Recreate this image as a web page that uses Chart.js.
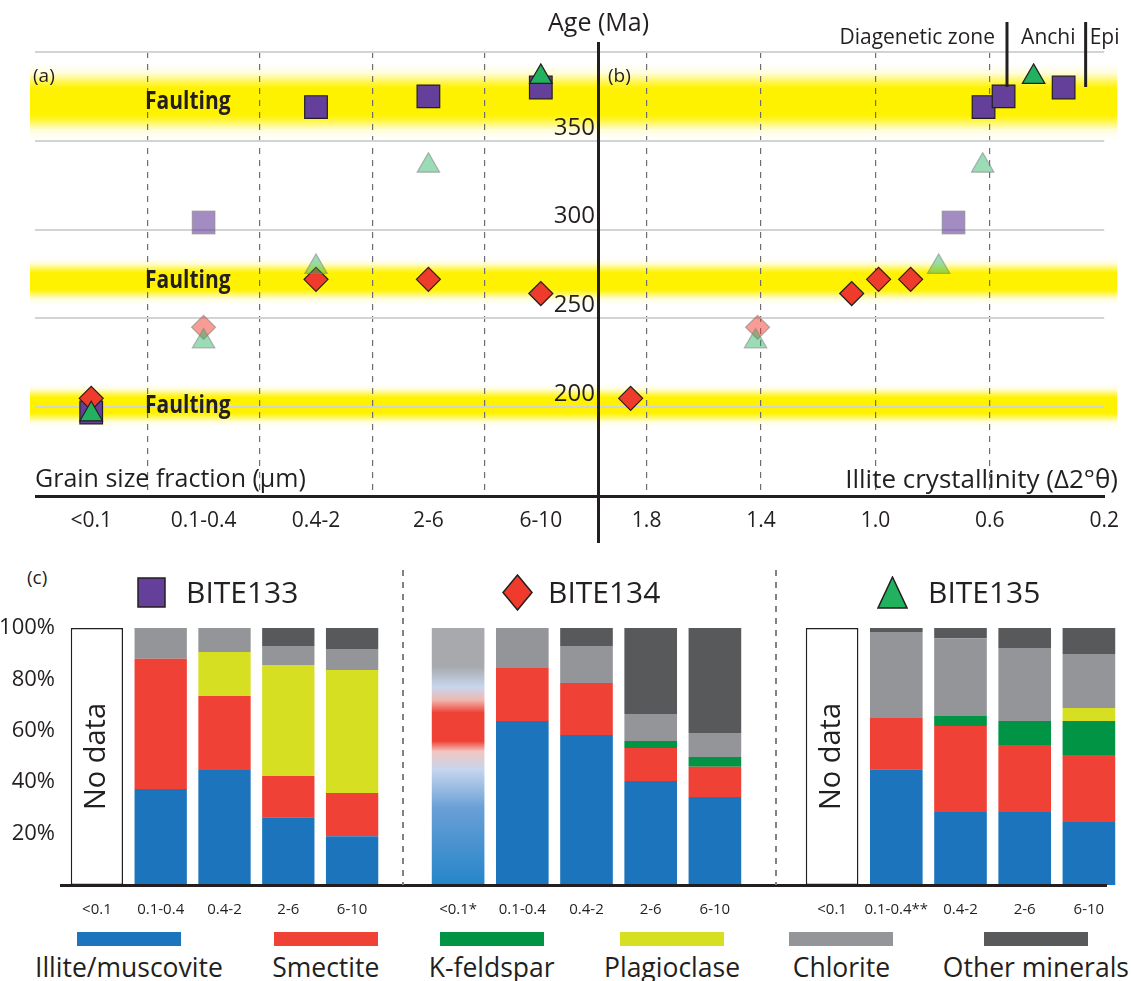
<!DOCTYPE html>
<html>
<head>
<meta charset="utf-8">
<script src="https://cdn.jsdelivr.net/npm/chart.js@4.4.1/dist/chart.umd.min.js"></script>
<style>
  body { margin: 0; background: #fff; font-family: "Open Sans", sans-serif; color: #231f20; }
  #wrap { position: relative; width: 1131px; height: 981px; overflow: hidden; }
  canvas { position: absolute; }
  .txt { position: absolute; white-space: nowrap; line-height: 1; }
  .line { position: absolute; background: #231f20; }
  .dash { position: absolute; width: 1.5px;
          background: repeating-linear-gradient(to bottom, #808285 0 6px, transparent 6px 12px); }
  #legend { position: absolute; left: 35px; top: 932px; width: 1094px;
            display: flex; justify-content: space-between; }
  #legend .item { display: flex; flex-direction: column; align-items: center; }
  #legend .sw { width: 104px; height: 14px; }
  #legend .lab { font-size: 26.5px; line-height: 1; margin-top: 8px; }
</style>
</head>
<body>
<div id="wrap">
  <canvas id="chartA" width="600" height="546" style="left:0;top:0"></canvas>
  <canvas id="chartB" width="591" height="546" style="left:540px;top:0"></canvas>
  <div class="line" style="left:35px;top:495px;width:1070px;height:3px"></div>
  <div class="line" style="left:597px;top:42px;width:3px;height:501px"></div>

  <div class="txt" style="left:548px;top:9px;font-size:25px">Age (Ma)</div>
  <div class="txt" style="left:33px;top:66px;font-size:19px">(a)</div>
  <div class="txt" style="left:608px;top:66px;font-size:19px">(b)</div>
  <div class="txt" style="left:35px;top:465px;font-size:25px">Grain size fraction (µm)</div>
  <div class="txt" style="right:13px;top:465px;font-size:26px">Illite crystallinity (Δ2°θ)</div>

  <canvas id="chartC1" width="400" height="320" style="left:0;top:600px"></canvas>
  <canvas id="chartC2" width="400" height="320" style="left:380px;top:600px"></canvas>
  <canvas id="chartC3" width="371" height="320" style="left:760px;top:600px"></canvas>
  <div class="line" style="left:60px;top:884px;width:1047px;height:3px"></div>
  <div class="dash" style="left:402px;top:570px;height:315px"></div>
  <div class="dash" style="left:775px;top:570px;height:315px"></div>

  <div class="txt" style="left:27px;top:568px;font-size:19px">(c)</div>
  <svg style="position:absolute;left:137px;top:577px" width="29" height="31"><rect x="1" y="1" width="27" height="29" fill="#65409a" stroke="#231f20" stroke-width="1.5"/></svg>
  <div class="txt" style="left:186px;top:577px;font-size:30px">BITE133</div>
  <svg style="position:absolute;left:502px;top:574px" width="31" height="37"><polygon points="15.5,1 30,18.5 15.5,36 1,18.5" fill="#ef3b2c" stroke="#231f20" stroke-width="1.5"/></svg>
  <div class="txt" style="left:548px;top:577px;font-size:30px">BITE134</div>
  <svg style="position:absolute;left:877px;top:576px" width="31" height="33"><polygon points="15.5,1 30,32 1,32" fill="#22b15e" stroke="#231f20" stroke-width="1.5"/></svg>
  <div class="txt" style="left:928px;top:577px;font-size:30px">BITE135</div>

  <div id="legend"></div>
</div>

<script>
// ---- (a) / (b) ages and crystallinity ----
const grainLabels = ['<0.1', '0.1-0.4', '0.4-2', '2-6', '6-10'];
const age133 = [197, 304, 369, 375, 380];
const age134 = [205, 245, 272, 272, 264];
const age135 = [196, 237, 279, 336, 386];
const faded133 = [false, true, false, false, false];
const faded134 = [false, true, false, false, false];
const faded135 = [false, true, true, true, false];
const ic133 = [null, 0.727, 0.622, 0.552, 0.342];
const ic134 = [1.856, 1.412, 0.989, 0.877, 1.083];
const ic135 = [null, 1.419, 0.779, 0.625, 0.447];
const ageTicks = [200, 250, 300, 350];
const icTicks = [1.8, 1.4, 1.0, 0.6, 0.2];
const faultAges = [372, 271, 201];
const faultHalfWidth = [21, 13, 12];
const zoneBounds = [0.54, 0.265];
const zoneNames = ['Diagenetic zone', 'Anchi', 'Epi'];

// ---- (c) mineralogy, % ----
const minerals = ['Illite/muscovite', 'Smectite', 'K-feldspar', 'Plagioclase', 'Chlorite', 'Other minerals'];
const mineralColors = ['#1c75bc', '#ef4136', '#009444', '#d7df23', '#939598', '#58595b'];

const fractions133 = ['<0.1', '0.1-0.4', '0.4-2', '2-6', '6-10'];
const illite133   = [null, 37.4, 44.7, 26.4, 19.0];
const smectite133 = [null, 50.6, 28.8, 16.0, 16.8];
const kfeld133    = [null, 0, 0, 0, 0];
const plag133     = [null, 0, 17.2, 43.2, 47.9];
const chlorite133 = [null, 12.0, 9.3, 7.4, 8.1];
const other133    = [null, 0, 0, 7.0, 8.2];
const noData133   = [100, null, null, null, null];

const fractions134 = ['<0.1*', '0.1-0.4', '0.4-2', '2-6', '6-10'];
const illite134   = [null, 63.8, 58.4, 40.5, 34.2];
const smectite134 = [null, 20.6, 20.2, 12.8, 11.8];
const kfeld134    = [null, 0, 0, 2.7, 3.8];
const plag134     = [null, 0, 0, 0, 0];
const chlorite134 = [null, 15.6, 14.4, 10.5, 9.3];
const other134    = [null, 0, 7.0, 33.5, 40.9];
const uncertain134 = [100, null, null, null, null];

const fractions135 = ['<0.1', '0.1-0.4**', '0.4-2', '2-6', '6-10'];
const illite135   = [null, 45.0, 28.4, 28.4, 24.5];
const smectite135 = [null, 20.0, 33.5, 26.1, 26.1];
const kfeld135    = [null, 0, 3.9, 9.3, 13.2];
const plag135     = [null, 0, 0, 0, 5.1];
const chlorite135 = [null, 33.4, 30.2, 28.4, 21.0];
const other135    = [null, 1.6, 4.0, 7.8, 10.1];
const noData135   = [100, null, null, null, null];

Chart.defaults.font.family = '"Open Sans", sans-serif';
Chart.defaults.color = '#231f20';

const INK = '#231f20';

// marker styles per sample (drawn top-first: triangles, diamonds, squares)
const samples = [
  { name: 'BITE135', ages: age135, ic: ic135, faded: faded135, style: 'triangle', r: 13, rgb: [34, 177, 94], alpha: 0.45 },
  { name: 'BITE134', ages: age134, ic: ic134, faded: faded134, style: 'rectRot', r: 12, rgb: [239, 59, 44], alpha: 0.5 },
  { name: 'BITE133', ages: age133, ic: ic133, faded: faded133, style: 'rect', r: 16, rgb: [101, 64, 154], alpha: 0.6 }
];
const rgba = (c, a) => `rgba(${c[0]},${c[1]},${c[2]},${a})`;

// yellow faulting bands under the grid
const bandPlugin = {
  id: 'bands',
  beforeDraw(chart, args, opts) {
    const { ctx, chartArea, scales: { y } } = chart;
    ctx.save();
    faultAges.forEach((a, i) => {
      const y0 = y.getPixelForValue(a + faultHalfWidth[i]);
      const y1 = y.getPixelForValue(a - faultHalfWidth[i]);
      const g = ctx.createLinearGradient(0, y0, 0, y1);
      g.addColorStop(0, 'rgba(255,242,0,0)');
      g.addColorStop(0.12, 'rgba(255,242,0,0.15)');
      g.addColorStop(0.25, 'rgba(255,242,0,0.75)');
      g.addColorStop(0.32, 'rgba(255,242,0,1)');
      g.addColorStop(0.68, 'rgba(255,242,0,1)');
      g.addColorStop(0.75, 'rgba(255,242,0,0.75)');
      g.addColorStop(0.88, 'rgba(255,242,0,0.15)');
      g.addColorStop(1, 'rgba(255,242,0,0)');
      ctx.fillStyle = g;
      ctx.fillRect(chartArea.left - opts.left, y0, chartArea.width + opts.left + opts.right, y1 - y0);
    });
    ctx.restore();
  }
};

// bold condensed "Faulting" labels (squeezed horizontally)
const faultLabelPlugin = {
  id: 'faultLabels',
  beforeDatasetsDraw(chart) {
    const { ctx, chartArea, scales: { y } } = chart;
    faultAges.forEach(a => {
      ctx.save();
      ctx.translate(chartArea.left + 110, y.getPixelForValue(a));
      ctx.scale(0.84, 1);
      ctx.font = 'bold 25px "Open Sans", sans-serif';
      ctx.fillStyle = INK;
      ctx.textBaseline = 'middle';
      ctx.fillText('Faulting', 0, 0);
      ctx.restore();
    });
  }
};

const zonePlugin = {
  id: 'zones',
  afterDraw(chart) {
    const { ctx, chartArea, scales: { x } } = chart;
    const xs = zoneBounds.map(v => x.getPixelForValue(v));
    ctx.save();
    ctx.strokeStyle = INK;
    ctx.lineWidth = 3;
    xs.forEach(px => {
      ctx.beginPath();
      ctx.moveTo(px, chartArea.top - 30);
      ctx.lineTo(px, chartArea.top + 35);
      ctx.stroke();
    });
    ctx.font = '21px "Open Sans", sans-serif';
    ctx.fillStyle = INK;
    ctx.textBaseline = 'middle';
    const ty = chartArea.top - 14;
    ctx.textAlign = 'right';
    ctx.fillText(zoneNames[0], xs[0] - 12, ty);
    ctx.textAlign = 'center';
    ctx.fillText(zoneNames[1], (xs[0] + xs[1]) / 2 + 2, ty);
    ctx.textAlign = 'left';
    ctx.fillText(zoneNames[2], xs[1] + 4, ty);
    ctx.restore();
  }
};

const markerOpts = (s, isFaded) => ({
  pointStyle: s.style,
  pointRadius: s.r,
  pointHoverRadius: s.r,
  pointBackgroundColor: ctx => isFaded(ctx) ? rgba(s.rgb, s.alpha) : rgba(s.rgb, 1),
  pointBorderColor: ctx => isFaded(ctx) ? 'rgba(128,128,128,0.55)' : INK,
  pointBorderWidth: 1.2,
  clip: false
});

const ageAxis = (showLabels) => ({
  min: 150, max: 400,
  ticks: {
    stepSize: 50,
    display: showLabels,
    callback: v => ageTicks.includes(v) ? String(v) : '',
    font: { size: 24 },
    padding: 3,
    labelOffset: -13
  },
  grid: { color: '#d1d3d4', lineWidth: 2, drawTicks: false },
  border: { display: false },
  afterFit: s => { s.width = showLabels ? 58 : 0; }
});

// (a) age vs grain size
new Chart(document.getElementById('chartA'), {
  type: 'line',
  data: {
    labels: grainLabels,
    datasets: samples.map(s => ({
      label: s.name,
      data: s.ages,
      showLine: false,
      ...markerOpts(s, ctx => s.faded[ctx.dataIndex])
    }))
  },
  options: {
    responsive: false, animation: false, events: [],
    layout: { autoPadding: false, padding: { left: 35, right: 3, top: 52, bottom: 0 } },
    plugins: { legend: { display: false }, tooltip: { enabled: false }, bands: { left: 5, right: 0 } },
    scales: {
      x: {
        type: 'category', offset: true,
        grid: {
          offset: true, drawTicks: false, lineWidth: 1.2,
          color: ctx => (ctx.type === 'tick' && ctx.index > 0) ? '#6d6e71' : 'rgba(0,0,0,0)'
        },
        border: { display: false, dash: [6, 6] },
        ticks: { font: { size: 21 }, padding: 12 },
        afterFit: s => { s.height = 50; }
      },
      y: ageAxis(false)
    }
  },
  plugins: [bandPlugin, faultLabelPlugin]
});

// (b) age vs illite crystallinity
new Chart(document.getElementById('chartB'), {
  type: 'scatter',
  data: {
    datasets: samples.map(s => ({
      label: s.name,
      data: s.ic.map((x, i) => x == null ? null : { x, y: s.ages[i], faded: s.faded[i] }).filter(Boolean),
      ...markerOpts(s, ctx => ctx.raw && ctx.raw.faded)
    }))
  },
  options: {
    responsive: false, animation: false, events: [],
    layout: { autoPadding: false, padding: { left: 0, right: 26, top: 52, bottom: 0 } },
    plugins: { legend: { display: false }, tooltip: { enabled: false }, bands: { left: 0, right: 13 } },
    scales: {
      x: {
        type: 'linear', reverse: true, min: 0.2, max: 1.97,
        afterBuildTicks: s => { s.ticks = icTicks.map(v => ({ value: v })); },
        ticks: { callback: v => Number(v).toFixed(1), font: { size: 21 }, padding: 12 },
        grid: {
          drawTicks: false, lineWidth: 1.2,
          color: ctx => (ctx.tick && ctx.tick.value > 0.2) ? '#6d6e71' : 'rgba(0,0,0,0)'
        },
        border: { display: false, dash: [6, 6] },
        afterFit: s => { s.height = 50; }
      },
      y: ageAxis(true)
    }
  },
  plugins: [bandPlugin, zonePlugin]
});

// (c) stacked mineral bars
const gradStops134 = [
  [0, '#2486c9'], [0.3, '#6a9fd6'], [0.45, '#c6d6ef'], [0.52, '#f2c6c0'], [0.56, '#ef4136'],
  [0.67, '#ef4136'], [0.72, '#f0b8b0'], [0.77, '#c8d6ee'], [0.85, '#a7a9ac'], [1, '#a7a9ac']
];

const noDataPlugin = {
  id: 'noDataText',
  afterDatasetsDraw(chart) {
    chart.data.datasets.forEach((ds, di) => {
      if (ds.label !== 'No data') return;
      const meta = chart.getDatasetMeta(di);
      meta.data.forEach((bar, i) => {
        if (ds.data[i] == null) return;
        const { ctx } = chart;
        ctx.save();
        ctx.translate(bar.x, (bar.y + bar.base) / 2);
        ctx.rotate(-Math.PI / 2);
        ctx.font = '29px "Open Sans", sans-serif';
        ctx.fillStyle = INK;
        ctx.textAlign = 'center';
        ctx.textBaseline = 'middle';
        ctx.fillText('No data', 0, 0);
        ctx.restore();
      });
    });
  }
};

function mineralChart(id, labels, rows, extra, showY, padLeft, padRight) {
  const datasets = [extra].concat(rows.map((data, i) => ({
    label: minerals[i], data, backgroundColor: mineralColors[i], borderWidth: 0
  })));
  datasets.forEach(d => { d.stack = 's'; d.barPercentage = 0.82; d.categoryPercentage = 1; });
  return new Chart(document.getElementById(id), {
    type: 'bar',
    data: { labels, datasets },
    options: {
      responsive: false, animation: false, events: [],
      layout: { autoPadding: false, padding: { left: padLeft, right: padRight, top: 28, bottom: 0 } },
      plugins: { legend: { display: false }, tooltip: { enabled: false } },
      scales: {
        x: {
          stacked: true,
          grid: { display: false },
          border: { display: false },
          ticks: { font: { size: 15 }, padding: 8, maxRotation: 0, autoSkip: false },
          afterFit: s => { s.height = 35; }
        },
        y: {
          stacked: true, min: 0, max: 100, display: showY,
          ticks: { stepSize: 20, callback: v => v === 0 ? '' : v + '%', font: { size: 22 }, padding: 2 },
          grid: { display: false },
          border: { display: false },
          afterFit: s => { s.width = showY ? 65 : 0; }
        }
      }
    },
    plugins: [noDataPlugin]
  });
}

const noDataSet = data => ({
  label: 'No data', data, backgroundColor: '#ffffff',
  borderColor: INK, borderWidth: 1.5, borderSkipped: false
});

mineralChart('chartC1', fractions133,
  [illite133, smectite133, kfeld133, plag133, chlorite133, other133],
  noDataSet(noData133), true, 0, 16);

mineralChart('chartC2', fractions134,
  [illite134, smectite134, kfeld134, plag134, chlorite134, other134],
  {
    label: 'Uncertain', data: uncertain134, borderWidth: 0,
    backgroundColor: ctx => {
      const { chart } = ctx;
      if (!chart.chartArea) return gradStops134[0][1];
      const y = chart.scales.y;
      const g = chart.ctx.createLinearGradient(0, y.getPixelForValue(0), 0, y.getPixelForValue(100));
      gradStops134.forEach(([o, c]) => g.addColorStop(o, c));
      return g;
    }
  }, false, 46, 33);

mineralChart('chartC3', fractions135,
  [illite135, smectite135, kfeld135, plag135, chlorite135, other135],
  noDataSet(noData135), false, 40, 10);

// legend
const legendEl = document.getElementById('legend');
minerals.forEach((m, i) => {
  const item = document.createElement('div');
  item.className = 'item';
  item.innerHTML = `<div class="sw" style="background:${mineralColors[i]}"></div><div class="lab">${m}</div>`;
  legendEl.appendChild(item);
});
</script>
</body>
</html>
